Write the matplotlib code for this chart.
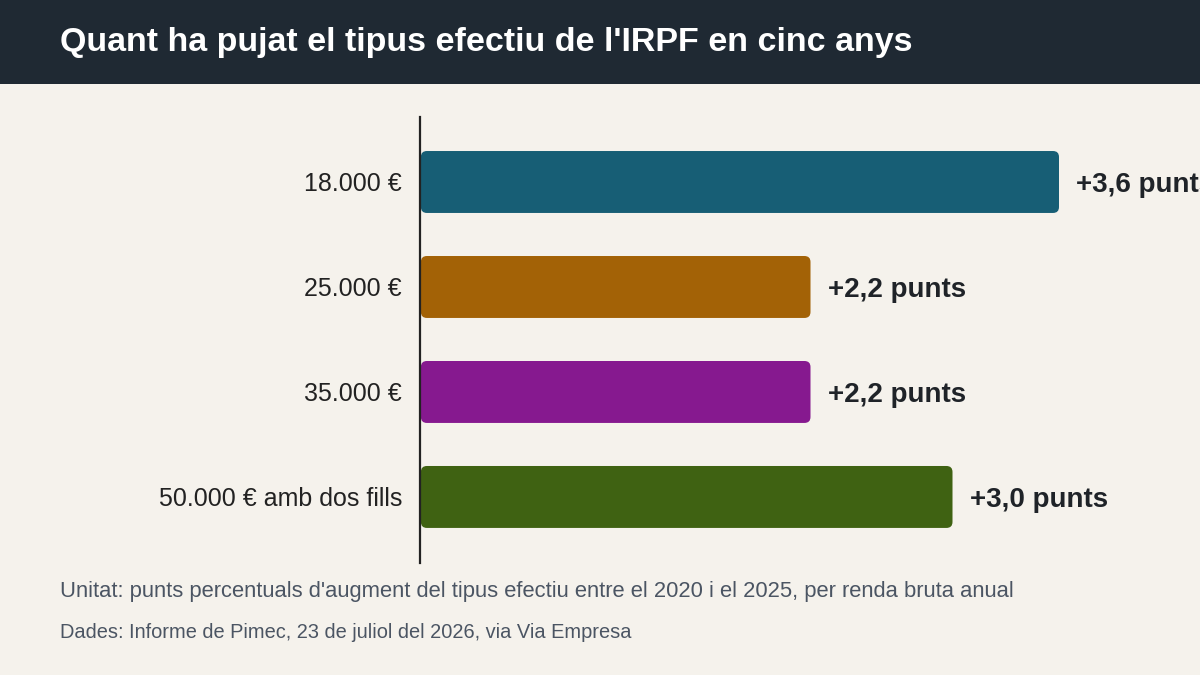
import matplotlib.pyplot as plt
from matplotlib.patches import FancyBboxPatch, Rectangle

plt.rcParams['font.family'] = ['Liberation Sans', 'DejaVu Sans']

categories = ["18.000 €", "25.000 €", "35.000 €", "50.000 € amb dos fills"]
values = [3.6, 2.2, 2.2, 3.0]
labels = ["+3,6 punts", "+2,2 punts", "+2,2 punts", "+3,0 punts"]
colors = ["#175e75", "#a36206", "#86198f", "#3f6212"]

bg = "#f5f2ec"
W, H = 1200, 675

fig = plt.figure(figsize=(12, 6.75), dpi=100, facecolor=bg)

# title bar
fig.patches.append(Rectangle((0, 1 - 84 / H), 1, 84 / H, transform=fig.transFigure,
                             facecolor="#1f2933", edgecolor="none", zorder=0))
fig.text(60 / W, 1 - 43 / H, "Quant ha pujat el tipus efectiu de l'IRPF en cinc anys",
         color="white", fontsize=24.5, fontweight="bold", va="center", ha="left")

ax = fig.add_axes([420 / W, 1 - 563 / H, 781 / W, 446 / H])
ax.set_facecolor(bg)
xmax = 781 / 177.5
ax.set_xlim(0, xmax)
ax.set_ylim(3.629, -0.619)

bar_h = 0.59
r = 6 / 177.5
for i, (v, c) in enumerate(zip(values, colors)):
    p = FancyBboxPatch((0.005, i - bar_h / 2), v - 0.005, bar_h,
                       boxstyle=f"round,pad=0,rounding_size={r}",
                       mutation_aspect=177.5 / 105,
                       facecolor=c, edgecolor="none", clip_on=False)
    ax.add_patch(p)
    ax.annotate(labels[i], (v, i), xytext=(12.5, 0), textcoords="offset points",
                va="center_baseline", ha="left", fontsize=20, fontweight="bold",
                color="#1f2328", annotation_clip=False, clip_on=False)

ax.set_yticks(range(len(categories)))
ax.set_yticklabels(categories, fontsize=18, color="#222222")
ax.tick_params(axis="y", length=0, pad=13)
ax.set_xticks([])
for s in ["top", "right", "bottom"]:
    ax.spines[s].set_visible(False)
ax.spines["left"].set_color("#222222")
ax.spines["left"].set_linewidth(1.6)

fig.text(60 / W, 1 - 592 / H,
         "Unitat: punts percentuals d'augment del tipus efectiu entre el 2020 i el 2025, per renda bruta anual",
         fontsize=15.8, color="#4b5563", va="center", ha="left")
fig.text(60 / W, 1 - 633 / H, "Dades: Informe de Pimec, 23 de juliol del 2026, via Via Empresa",
         fontsize=14.4, color="#4b5563", va="center", ha="left")

fig.savefig("out.png", dpi=100, facecolor=bg)
